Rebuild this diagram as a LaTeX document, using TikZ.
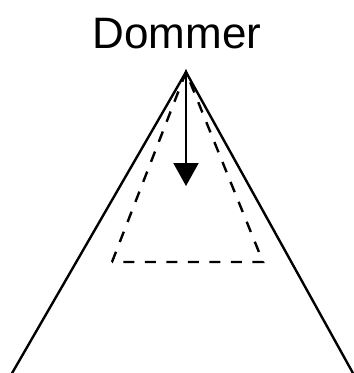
\documentclass[tikz,border=0pt]{standalone}
\usepackage{fontspec}
\setmainfont{Liberation Sans}
\usetikzlibrary{arrows.meta}

\begin{document}
\begin{tikzpicture}[x=1pt,y=-1pt,line width=2.4pt]
\useasboundingbox (0,0) rectangle (354,373);

\node[anchor=base,inner sep=0pt,font=\fontsize{44}{50}\selectfont] (dommer) at (177,48) {Dommer};
\coordinate (top) at (186,72);
\coordinate (bl) at (11,375);
\coordinate (br) at (354,375);
\coordinate (dl) at (112,262);
\coordinate (dr) at (263,262);
\coordinate (tip) at (186,186);

\draw (bl) -- (top) -- (br);
\draw[dash pattern=on 11pt off 10.5pt] (dl) -- (top) -- (dr) -- cycle;
\draw[-{Triangle[length=23pt,width=25pt]},line width=2pt] (top) -- (tip);

\end{tikzpicture}
\end{document}
